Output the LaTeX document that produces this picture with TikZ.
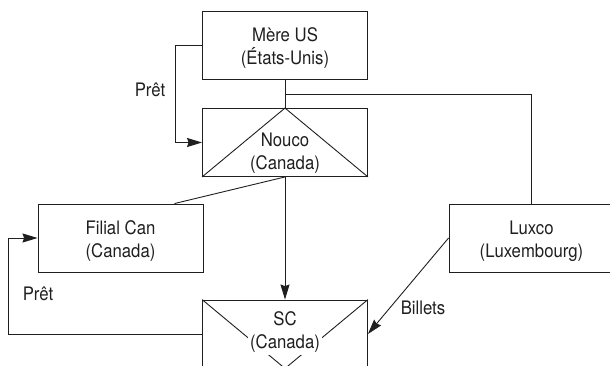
\documentclass[tikz,border=0pt]{standalone}
\usepackage{fontspec}
\setmainfont{TeX Gyre Heros}[FakeStretch=0.9]
\usetikzlibrary{arrows.meta,positioning,calc}

\begin{document}
\begin{tikzpicture}[x=1pt,y=-1pt,line width=0.9pt,color=black!88,
  font=\fontsize{18.6}{23}\selectfont,
  entity/.style={draw,minimum width=165pt,minimum height=68pt,inner sep=0pt,
    align=center,text height=42.5pt},
  fleche/.style={-{Stealth[length=15pt,width=9pt,inset=1.5pt]}}]
  \useasboundingbox (0,0) rectangle (610,366);
  % entites
  \node[entity] (mere)   at (285,45.5)  {Mère US\\(États-Unis)};
  \node[entity] (nouco)  at (285,142.5) {};
  \node[entity] (filial) at (120.5,238) {Filial Can\\(Canada)};
  \node[entity] (luxco)  at (531.5,238) {Luxco\\(Luxembourg)};
  \node[entity] (sc)     at (285,334)   {};
  \draw (nouco.south west) -- (nouco.north) -- (nouco.south east);
  \node[align=center] (nouco-txt) at ([yshift=-11pt]nouco.center) {Nouco\\(Canada)};
  \draw (sc.north west) -- (sc.south) -- (sc.north east);
  \node[align=center,fill=white,inner sep=2pt] (sc-txt) at ([yshift=1.5pt]sc.center) {SC\\(Canada)};
  % liens de detention
  \coordinate (split) at ($(mere.south)!0.5!(nouco.north)$);
  \draw (mere.south) -- (nouco.north);
  \draw (split) -| (luxco.north);
  \draw (nouco.south) -- ([xshift=-29pt]filial.north east);
  \draw[fleche] (nouco.south) -- (sc.north);
  % prets et billets
  \draw[fleche] (mere.west) -- ++(-27,0) |- (nouco.west);
  \draw[fleche] (sc.west) -- ++(-194,0) |- (filial.west);
  \draw[fleche] (luxco.west) -- (sc.east);
  \node (pret-haut) at (150,90)  {Prêt};
  \node (pret-bas)  at (38,294)  {Prêt};
  \node (billets)   at (423,308) {Billets};
\end{tikzpicture}
\end{document}
